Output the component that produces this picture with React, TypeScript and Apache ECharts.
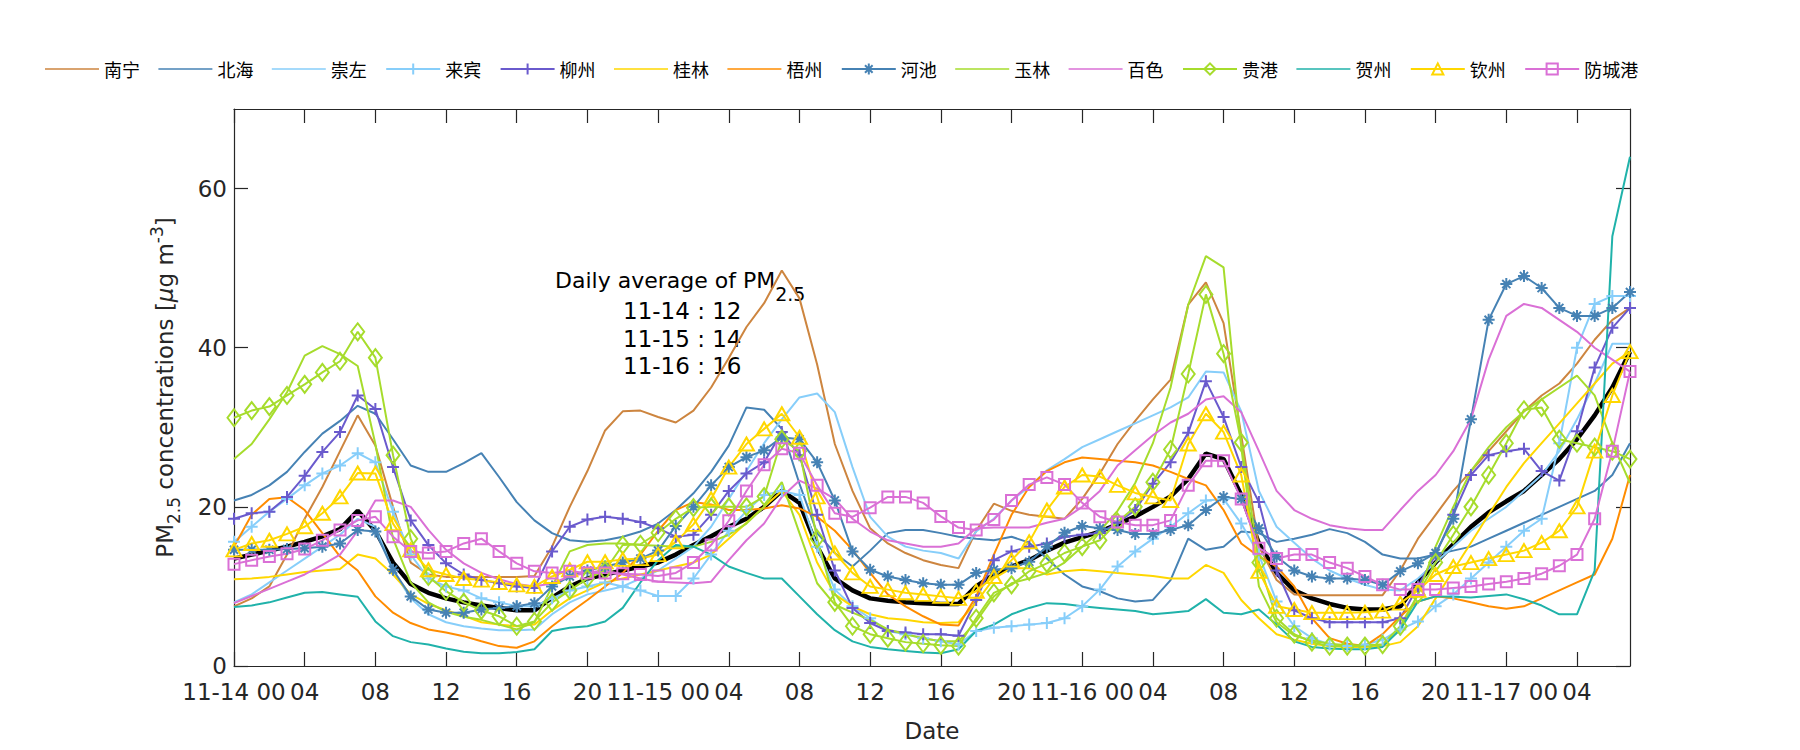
import React, { useEffect, useRef } from 'react';
import * as echarts from 'echarts';

const hours = Array.from({ length: 80 }, (_, i) => i);
const xTickHours = [0, 4, 8, 12, 16, 20, 24, 28, 32, 36, 40, 44, 48, 52, 56, 60, 64, 68, 72, 76];
const yTickValues = [0, 20, 40, 60];
const dayLabels = ['11-14 00', '11-15 00', '11-16 00', '11-17 00'];
const annotationLines = ['11-14 : 12', '11-15 : 14', '11-16 : 16'];

const nanning = [7.5, 8.5, 10, 14, 18.5, 22.5, 27, 31.5, 27.7, 20, 13, 11.5, 11.2, 11.2, 11.2, 11.2, 11.2, 11.3, 15, 20, 24.5, 29.6, 32, 32.1, 31.3, 30.6, 32.1, 35, 38.7, 42.6, 45.6, 49.7, 46.2, 37.9, 27.9, 22, 17.3, 15.4, 14.2, 13.3, 12.7, 12.3, 17, 20.4, 19.5, 19, 18.75, 18.5, 21, 24.2, 27.9, 30.8, 33.5, 36, 45.4, 48.2, 43.1, 29, 15, 10.8, 9, 8.9, 8.9, 8.9, 8.9, 8.9, 12, 16, 19, 22, 24.5, 27, 29.5, 32, 34, 35.5, 38, 41, 43.5, 45];
const beihai = [20.8, 21.5, 22.7, 24.4, 26.9, 29.2, 30.8, 32.7, 31.7, 28.5, 25.2, 24.4, 24.4, 25.5, 26.75, 23.75, 20.6, 18.3, 16.7, 15.8, 15.6, 15.8, 16.25, 16.9, 17.9, 19.6, 21.7, 24.4, 27.7, 32.5, 32.2, 29.8, 22.9, 16.7, 14.2, 12.5, 14.5, 16.7, 17.1, 17.1, 16.7, 16.25, 16, 15.8, 16.25, 15.5, 13.5, 11.5, 10, 9.4, 8.5, 8.1, 8.3, 10.8, 16, 14.6, 15, 16.9, 16.7, 15.6, 16, 16.5, 17.2, 16.7, 15.6, 14, 13.5, 13.5, 14, 14.5, 15, 16, 17, 18, 19, 20, 21, 22, 24, 28];
const chongzuo = [8, 9, 10.5, 12, 13.5, 15, 16.5, 18.5, 17.5, 12, 8.5, 6.5, 5.5, 5, 4.7, 4.5, 4.5, 4.6, 6.5, 8, 9, 9.5, 10, 11, 12, 13.5, 15, 17.5, 21, 24.5, 28, 31, 33.75, 34.25, 31.9, 25, 18.75, 16.25, 15, 14.5, 14.2, 13.5, 16.9, 18.5, 20.8, 22.5, 24.6, 26, 27.5, 28.5, 29.5, 30.5, 31.5, 32.5, 33.75, 37, 36.9, 32, 22, 17.5, 15.5, 13.5, 12, 11, 10.2, 9.6, 9.5, 11, 13, 15, 17, 18.5, 20, 22, 24, 27, 31, 35.5, 40.5, 40.5];
const laibin = [15.6, 17.5, 19.4, 21, 22.7, 24.2, 25.2, 26.75, 25.6, 19.4, 14, 11, 10, 9.5, 8.5, 8, 7.5, 7.5, 8.5, 9.5, 10, 10.5, 10, 9.5, 8.8, 8.8, 11, 14, 17, 19.5, 21.5, 22, 21.5, 15, 9.6, 7.5, 6, 4.4, 4, 3.5, 3.1, 2.7, 4.4, 4.8, 5, 5.2, 5.4, 6, 7.5, 9.6, 12.5, 14.4, 16, 17.5, 19.2, 20.8, 21, 17.9, 14, 8.1, 5, 3.5, 2.7, 2.5, 2.7, 3.3, 4.6, 5.6, 7.5, 9, 11, 13, 15, 17, 18.5, 28, 40, 45.5, 46.5, 46.5];
const liuzhou = [18.5, 19.2, 19.4, 21.25, 23.9, 26.9, 29.4, 34, 32.3, 25, 18.3, 15.2, 12.9, 11.5, 10.8, 10.4, 10, 9.8, 14.4, 17.5, 18.4, 18.75, 18.5, 18.1, 17.3, 16.25, 16.5, 19, 22, 24.2, 25.6, 29.4, 26.5, 19, 12, 7.3, 5.4, 4.4, 4.2, 4, 4, 3.8, 8.3, 13.3, 14.4, 15, 15.4, 16.25, 16.5, 16.7, 18, 19.6, 22.9, 25.6, 29.3, 35.8, 31.3, 25, 20.6, 12, 7, 6, 5.5, 5.5, 5.5, 5.5, 6, 10, 14, 19, 24, 26.5, 27, 27.3, 24.5, 23.3, 29.5, 37.5, 42.5, 45];
const guilin = [10.9, 11, 11.2, 11.5, 11.8, 12, 12.2, 14, 13.5, 11.5, 9, 7.8, 7, 6.3, 5.5, 5.2, 5, 5.2, 7, 8.5, 9.5, 10.5, 11, 11.5, 12, 12.5, 13, 14, 16, 18, 20, 22, 19, 13, 9, 7.5, 6.5, 6, 5.8, 5.5, 5.4, 5.5, 8, 11, 12.3, 12.3, 11.5, 11.9, 12.1, 11.9, 11.7, 11.5, 11.3, 11, 11, 12.7, 11.7, 8.3, 6, 4, 3.3, 2.8, 2.5, 2.4, 2.4, 2.5, 3, 5, 8.5, 12, 15.5, 19, 22.5, 25.5, 28, 30.5, 33, 35.5, 38, 39.5];
const wuzhou = [15, 19, 21, 21.2, 19.6, 16.7, 13.75, 12, 8.75, 6.7, 5.4, 4.6, 4.2, 3.75, 3.1, 2.5, 2.3, 3.1, 5, 6.7, 8.3, 10, 11.7, 14, 17, 19.6, 20.6, 20.3, 19.6, 19.6, 19.8, 20.2, 19.8, 18.75, 17, 14.6, 11.7, 9, 7.5, 6.25, 5.2, 5.1, 8.75, 14, 19, 22.5, 24.5, 25.6, 26.2, 26, 25.8, 25.6, 25.2, 24.4, 23.5, 22.7, 19.6, 15.4, 13.75, 12.5, 10, 6, 3.5, 2.8, 2.5, 4, 6.25, 8.1, 8.75, 8.5, 8, 7.5, 7.2, 7.5, 8.5, 9.5, 10.5, 11.5, 16, 24];
const hechi = [14.6, 14.6, 14.6, 14.7, 14.8, 15, 15.4, 17.1, 16.9, 12.1, 8.75, 7.1, 6.7, 6.7, 7.1, 7.3, 7.5, 7.9, 10, 11.25, 12, 12.5, 13, 13.5, 14.5, 17.6, 20, 22.7, 25, 26.25, 27.1, 28.75, 28.5, 25.6, 20.8, 14.4, 12.1, 11.25, 10.8, 10.4, 10.2, 10.2, 11.7, 12.1, 12.3, 13.1, 15, 16.75, 17.6, 17.3, 17.1, 16.6, 16.6, 17.1, 17.7, 19.6, 21.25, 21, 17.3, 13.75, 12, 11.25, 11, 11, 10.8, 10.2, 11.9, 12.9, 14.2, 18.5, 31, 43.5, 48, 49, 47.5, 45, 44, 44, 45, 47];
const yulin = [26, 27.9, 31, 34.4, 39, 40.2, 39.2, 37.7, 27.9, 16, 10.5, 8, 6.8, 6.2, 5.8, 5.2, 4.6, 5.5, 10, 14.4, 15.2, 15.4, 15.4, 15.2, 15.1, 15, 15, 15.6, 16.5, 17.9, 20, 23.1, 16.7, 10.4, 7.7, 6.7, 5.8, 4.6, 4, 3.5, 3.1, 3.1, 5.6, 8.75, 10.4, 11, 11.7, 13, 15, 17, 19.5, 23, 28, 35, 45.4, 51.5, 50.1, 27.5, 10, 5.5, 3.8, 3.2, 2.8, 2.6, 2.6, 2.7, 4.5, 9, 15, 20, 24.5, 27.5, 30, 32, 33.5, 35, 36.5, 34, 28, 23];
const baise = [7.9, 8.8, 9.7, 10.6, 11.5, 12.7, 14, 17, 20.8, 20.8, 20, 17.1, 14.6, 12.9, 11.7, 10.9, 10.3, 10, 10.4, 11.25, 11.75, 12, 11.5, 11, 10.6, 10.5, 10.4, 10.6, 13.3, 15.8, 17.9, 21.25, 23.3, 22.3, 21, 18.5, 16.9, 15.8, 15.4, 15, 15, 15.4, 17.3, 17.4, 17.4, 17.4, 18, 18.5, 20, 22, 25.2, 27.1, 29, 30.6, 31.7, 33.5, 33.9, 31.9, 27, 22, 19.6, 18.5, 17.7, 17.3, 17.1, 17.1, 19.6, 22, 24, 27, 31, 38.5, 44, 45.5, 45, 43.5, 42, 40, 38.5, 37];
const guigang = [31.2, 32.1, 32.6, 34, 35.4, 36.9, 38.3, 42, 38.75, 26.5, 16, 11.25, 9.4, 8, 7, 6.25, 5, 5.6, 8, 9.5, 11, 12, 15.2, 15.3, 16.75, 18.5, 19.9, 20, 20, 20, 21.3, 28.5, 27, 16, 8, 5, 4, 3.5, 3, 2.8, 2.6, 2.5, 6, 9.2, 10.2, 11.9, 12.9, 14.2, 15, 15.8, 18.1, 20, 23.1, 27.2, 36.7, 46.7, 39.25, 28.1, 13, 6, 4, 3, 2.5, 2.5, 2.5, 2.7, 5, 9, 13, 16.5, 20, 24, 28, 32.2, 32.5, 28.5, 28, 27.5, 27, 26];
const hezhou = [7.4, 7.6, 8, 8.6, 9.2, 9.3, 9, 8.7, 5.6, 3.75, 3, 2.7, 2.2, 1.8, 1.6, 1.6, 1.75, 2.1, 4.4, 4.8, 5, 5.6, 7.3, 10.5, 13.3, 15.2, 15, 14, 12.5, 11.7, 11, 11, 8.75, 6.5, 4.5, 3.1, 2.4, 2.1, 1.9, 1.7, 1.6, 2.1, 4.4, 5.2, 6.5, 7.3, 7.9, 7.8, 7.5, 7.3, 7.1, 6.9, 6.5, 6.7, 6.9, 8.4, 6.7, 6.5, 7.1, 5.2, 3.1, 2.4, 2.2, 2.1, 2.1, 2.4, 4.6, 8.1, 8.75, 8.7, 8.6, 8.8, 9, 8.4, 7.6, 6.5, 6.5, 12, 54, 64];
const qinzhou = [14.6, 15.4, 15.8, 16.6, 17.5, 19.2, 21.25, 24.25, 24.2, 17.9, 14.6, 12.1, 11.5, 11, 10.8, 10.5, 10.2, 10, 11.25, 12.1, 13.1, 13.1, 13.4, 13.5, 14, 15.6, 17.8, 21, 25, 27.9, 29.8, 31.7, 28.75, 21.25, 14.2, 11.7, 10, 9.6, 9.2, 9, 8.75, 8.5, 9.4, 11.25, 13.3, 15.6, 19.6, 22.5, 24, 23.8, 22.7, 21.75, 21.25, 20.8, 27.9, 31.7, 29.4, 24, 11.9, 7.5, 7.1, 6.7, 6.7, 6.7, 6.75, 6.9, 7.9, 9.5, 11.5, 12.5, 13, 13.5, 14, 14.5, 15.5, 17, 20, 27, 34, 39.5];
const fangchenggang = [12.8, 13.3, 13.75, 14.1, 14.7, 15.8, 17.1, 18.3, 18.75, 16.25, 14.4, 14.2, 14.4, 15.4, 16, 14.4, 12.9, 11.9, 11.7, 11.9, 11.7, 11.7, 11.6, 11.5, 11.3, 11.7, 13, 15.2, 18.25, 22, 25.3, 27.3, 26.75, 22.7, 19.2, 18.75, 19.9, 21.25, 21.25, 20.5, 18.8, 17.4, 17.1, 18.4, 20.8, 22.8, 23.7, 22.8, 20.5, 18.75, 18.1, 17.7, 17.7, 18.3, 22.7, 25.8, 25.8, 21, 14.8, 13.5, 14, 14, 13, 12.3, 11.25, 10.2, 9.6, 9.6, 9.6, 9.8, 10, 10.3, 10.6, 11, 11.6, 12.6, 14, 18.5, 27, 37];
const meanPM = [13.5, 14, 14.5, 15, 15.6, 16.3, 17.2, 19.5, 17, 13, 10.3, 9.2, 8.5, 8, 7.6, 7.3, 7, 7, 8.6, 10, 11, 11.5, 12, 12.5, 13, 14, 15.2, 16.3, 17.5, 18.5, 20, 22, 20.5, 15, 11, 9.5, 8.5, 8.2, 8, 7.9, 7.8, 7.8, 10, 11.5, 12.5, 13.3, 14.5, 15.5, 16.2, 16.9, 17.8, 18.8, 20, 21.3, 23.5, 26.7, 26, 21.5, 15.4, 11.7, 9.5, 8.5, 7.8, 7.3, 7.1, 7.1, 7.5, 10.5, 13, 15.3, 17.5, 19.3, 20.7, 22, 24, 26, 28.5, 31.5, 35, 39.5];

const PLUS = 'path://M5,0L5,10M0,5L10,5';
const STAR = 'path://M5,0L5,10M0,5L10,5M1.6,1.6L8.4,8.4M8.4,1.6L1.6,8.4';
const LINE_ICON = 'path://M0,0L100,0L100,3L0,3Z';

const stations = [
  { name: '南宁', data: nanning, color: '#CD853F', symbol: 'none', size: 0 },
  { name: '北海', data: beihai, color: '#4682B4', symbol: 'none', size: 0 },
  { name: '崇左', data: chongzuo, color: '#87CEFA', symbol: 'none', size: 0 },
  { name: '来宾', data: laibin, color: '#87CEFA', symbol: PLUS, size: 12 },
  { name: '柳州', data: liuzhou, color: '#6A5ACD', symbol: PLUS, size: 12 },
  { name: '桂林', data: guilin, color: '#FFD700', symbol: 'none', size: 0 },
  { name: '梧州', data: wuzhou, color: '#FF8C00', symbol: 'none', size: 0 },
  { name: '河池', data: hechi, color: '#4682B4', symbol: STAR, size: 12 },
  { name: '玉林', data: yulin, color: '#A6DC2C', symbol: 'none', size: 0 },
  { name: '百色', data: baise, color: '#DA70D6', symbol: 'none', size: 0 },
  { name: '贵港', data: guigang, color: '#A6DC2C', symbol: 'diamond', size: [13, 17] },
  { name: '贺州', data: hezhou, color: '#20B2AA', symbol: 'none', size: 0 },
  { name: '钦州', data: qinzhou, color: '#FFD700', symbol: 'triangle', size: [15, 13] },
  { name: '防城港', data: fangchenggang, color: '#DA70D6', symbol: 'rect', size: 11 },
];

const FONT = '"DejaVu Sans", "Liberation Sans", sans-serif';
const CJK = '"Noto Sans CJK SC", sans-serif';
const AXIS_COLOR = '#262626';
const FS = 23;

function xLabel(v: number): string {
  if (v % 24 === 0) return dayLabels[v / 24] ?? '';
  const h = v % 24;
  return h < 10 ? '0' + h : String(h);
}

export default function App() {
  const ref = useRef<HTMLDivElement>(null);
  useEffect(() => {
    document.body.style.margin = '0';
    if (!ref.current) return;
    const chart = echarts.init(ref.current, undefined, { renderer: 'svg' });
    const gridPos = { left: 234, right: 170, top: 109, bottom: 84 };

    const series: any[] = [
      {
        name: 'mean',
        type: 'line',
        data: hours.map((h, i) => [h, meanPM[i]]),
        symbol: 'none',
        lineStyle: { color: '#000000', width: 4.5 },
        itemStyle: { color: '#000000' },
        z: 2,
      },
    ];
    stations.forEach((s) => {
      const marked = s.symbol !== 'none';
      series.push({
        name: s.name,
        type: 'line',
        data: hours.map((h, i) => [h, s.data[i]]),
        symbol: s.symbol,
        symbolSize: s.size,
        showSymbol: marked,
        lineStyle: { color: s.color, width: 2 },
        itemStyle: marked
          ? { color: 'rgba(255,255,255,0)', borderColor: s.color, borderWidth: 2 }
          : { color: s.color },
        z: 3,
      });
    });

    const axisLine = { show: true, onZero: false, lineStyle: { color: AXIS_COLOR, width: 1.2 } };
    const tickStyle = { color: AXIS_COLOR, width: 1.2 };

    const option: any = {
      animation: false,
      backgroundColor: '#ffffff',
      legend: {
        data: stations.map((s) => (s.symbol === 'none' ? { name: s.name, icon: LINE_ICON } : { name: s.name })),
        left: 40,
        top: 55,
        itemWidth: 54,
        itemHeight: 14,
        itemGap: 18.4,
        textStyle: { fontFamily: CJK, fontSize: 18, color: '#000' },
      },
      grid: gridPos,
      xAxis: [
        {
          type: 'value',
          min: 0,
          max: 79,
          position: 'bottom',
          name: 'Date',
          nameLocation: 'middle',
          nameGap: 53,
          nameTextStyle: { fontFamily: FONT, fontSize: FS, color: AXIS_COLOR },
          axisLine,
          axisTick: { show: true, inside: true, length: 14, customValues: xTickHours, lineStyle: tickStyle },
          axisLabel: {
            customValues: xTickHours,
            formatter: (v: number) => xLabel(v),
            fontFamily: FONT,
            fontSize: FS,
            color: AXIS_COLOR,
            margin: 14,
          },
          splitLine: { show: false },
        },
        {
          type: 'value',
          min: 0,
          max: 79,
          position: 'top',
          axisLine,
          axisTick: { show: true, inside: true, length: 14, customValues: xTickHours, lineStyle: tickStyle },
          axisLabel: { show: false },
          splitLine: { show: false },
        },
      ],
      yAxis: [
        {
          type: 'value',
          min: 0,
          max: 70,
          position: 'left',
          name: '{m|PM}{s|2.5}{m| concentrations [}{i|μ}{m|g m}{p|-3}{m|]}',
          nameLocation: 'middle',
          nameRotate: 90,
          nameGap: 52,
          nameTextStyle: {
            color: AXIS_COLOR,
            rich: {
              m: { fontFamily: FONT, fontSize: FS, lineHeight: 34, verticalAlign: 'middle', color: AXIS_COLOR },
              i: { fontFamily: FONT, fontSize: FS, lineHeight: 34, verticalAlign: 'middle', fontStyle: 'italic', color: AXIS_COLOR },
              s: { fontFamily: FONT, fontSize: 17, lineHeight: 17, verticalAlign: 'bottom', color: AXIS_COLOR },
              p: { fontFamily: FONT, fontSize: 17, lineHeight: 17, verticalAlign: 'top', color: AXIS_COLOR },
            },
          },
          axisLine,
          axisTick: { show: true, inside: true, length: 14, customValues: yTickValues, lineStyle: tickStyle },
          axisLabel: { customValues: yTickValues, fontFamily: FONT, fontSize: FS, color: AXIS_COLOR, margin: 7 },
          splitLine: { show: false },
        },
        {
          type: 'value',
          min: 0,
          max: 70,
          position: 'right',
          axisLine,
          axisTick: { show: true, inside: true, length: 14, customValues: yTickValues, lineStyle: tickStyle },
          axisLabel: { show: false },
          splitLine: { show: false },
        },
      ],
      graphic: [
        {
          type: 'text',
          x: 555,
          y: 280,
          style: {
            text: '{m|Daily average of PM}{s|2.5}',
            align: 'left',
            verticalAlign: 'middle',
            rich: {
              m: { fontFamily: FONT, fontSize: 22, lineHeight: 46, verticalAlign: 'middle', fill: '#000' },
              s: { fontFamily: FONT, fontSize: 19, lineHeight: 19, verticalAlign: 'bottom', fill: '#000' },
            },
          },
        },
        ...annotationLines.map((t, i) => ({
          type: 'text',
          x: 623,
          y: 311 + i * 27.5,
          style: { text: t, fontFamily: FONT, fontSize: FS, fill: '#000', align: 'left', verticalAlign: 'middle' },
        })),
      ],
      series,
    };
    chart.setOption(option);
    return () => chart.dispose();
  }, []);
  return <div ref={ref} style={{ width: 1800, height: 750 }} />;
}
